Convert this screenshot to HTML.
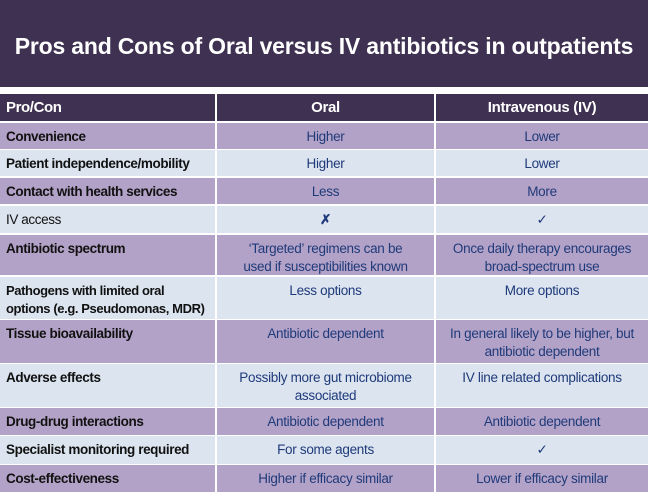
<!DOCTYPE html>
<html><head><meta charset="utf-8"><style>
*{margin:0;padding:0;box-sizing:border-box}
body{width:648px;height:495px;background:#fff;position:relative;overflow:hidden;font-family:"Liberation Sans",Arial,sans-serif}
#t{position:absolute;left:0;top:0;width:648px;height:87px;background:#3f3151;color:#fff;font-weight:bold;font-size:23px;text-align:center;line-height:92px;letter-spacing:-0.2px;white-space:nowrap}
.r{position:absolute;left:0;width:648px;display:flex}
.r div{border-right:2px solid #fff;padding:5px 4px;font-size:13.5px;color:#1f3a7a;text-align:center;line-height:18px;letter-spacing:-0.3px;white-space:nowrap}
.r div:first-child{width:217px;text-align:left;color:#111;font-weight:bold;padding-left:6px;letter-spacing:-0.4px}
.r div:nth-child(2){width:219px}
.r div:nth-child(3){width:212px;border-right:none}
.p{background:#b3a2c7}.l{background:#dbe4ef}
.h{background:#3f3151}.h div{color:#fff!important;font-size:15px;font-weight:bold!important;padding-top:5px}
</style></head><body>
<div id="t">Pros and Cons of Oral versus IV antibiotics in outpatients</div>
<div class="r h" style="top:94px;height:27px"><div>Pro/Con</div><div>Oral</div><div>Intravenous (IV)</div></div>
<div class="r p" style="top:123px;height:26px"><div>Convenience</div><div>Higher</div><div>Lower</div></div>
<div class="r l" style="top:150px;height:26px"><div>Patient independence/mobility</div><div>Higher</div><div>Lower</div></div>
<div class="r p" style="top:178px;height:26px"><div>Contact with health services</div><div>Less</div><div>More</div></div>
<div class="r l" style="top:206px;height:27px"><div style="font-weight:normal">IV access</div><div style="font-weight:bold">✗</div><div>✓</div></div>
<div class="r p" style="top:235px;height:40px"><div>Antibiotic spectrum</div><div>‘Targeted’ regimens can be<br>used if susceptibilities known</div><div>Once daily therapy encourages<br>broad-spectrum use</div></div>
<div class="r l" style="top:277px;height:42px"><div style="font-size:13px">Pathogens with limited oral<br>options (e.g. Pseudomonas, MDR)</div><div>Less options</div><div>More options</div></div>
<div class="r p" style="top:320px;height:43px"><div>Tissue bioavailability</div><div>Antibiotic dependent</div><div>In general likely to be higher, but<br>antibiotic dependent</div></div>
<div class="r l" style="top:364px;height:43px"><div>Adverse effects</div><div>Possibly more gut microbiome<br>associated</div><div>IV line related complications</div></div>
<div class="r p" style="top:408px;height:27px"><div>Drug-drug interactions</div><div>Antibiotic dependent</div><div>Antibiotic dependent</div></div>
<div class="r l" style="top:436px;height:28px"><div>Specialist monitoring required</div><div>For some agents</div><div>✓</div></div>
<div class="r p" style="top:465px;height:27px"><div>Cost-effectiveness</div><div>Higher if efficacy similar</div><div>Lower if efficacy similar</div></div>
</body></html>
